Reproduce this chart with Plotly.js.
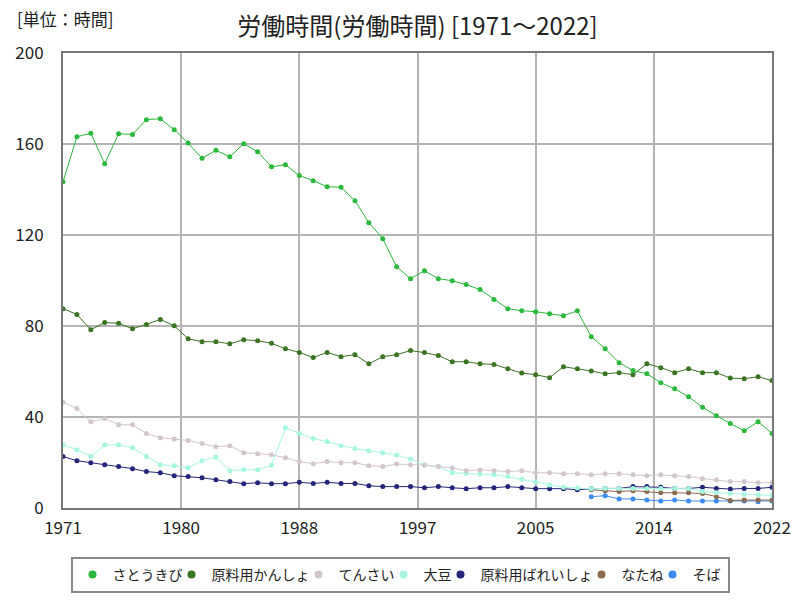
<!DOCTYPE html>
<html><head><meta charset="utf-8">
<script src="https://cdn.plot.ly/plotly-3.0.1.min.js"></script>
<style>body{margin:0;background:#fff}#chart{width:800px;height:600px}</style>
</head><body><div id="chart"></div>
<script>
const years = [];
for (let y = 1971; y <= 2022; y++) years.push(y);

const seriesNames = ["さとうきび","原料用かんしょ","てんさい","大豆","原料用ばれいしょ","なたね","そば"];
const seriesColors = ["#2cb83c","#3b7423","#d2c6cf","#a6f7de","#25257a","#8c6a4e","#3d8cf2"];

const sugarcane = [143.4,163.2,164.7,151.3,164.5,164.2,170.7,171.1,166.3,160.4,
  153.7,157.2,154.4,160.1,156.6,150.0,150.9,146.1,143.9,141.2,
  141.0,135.1,125.4,118.4,106.0,100.8,104.3,100.8,99.9,98.2,
  96.0,91.6,87.6,86.7,86.3,85.4,84.5,86.7,75.3,70.0,
  63.9,60.4,59.0,55.1,52.4,48.9,44.3,40.6,37.1,34.0,
  37.9,32.8];
const sweetPotato = [87.6,85.1,78.4,81.5,81.2,78.8,80.7,82.9,80.1,74.4,
  73.1,73.1,72.2,74.0,73.5,72.4,70.0,68.4,66.1,68.4,
  66.5,67.4,63.4,66.5,67.4,69.2,68.3,67.0,64.3,64.3,
  63.4,63.1,61.2,59.3,58.6,57.3,62.1,61.2,60.2,59.0,
  59.5,58.6,63.4,61.7,59.5,61.2,59.5,59.5,57.1,56.8,
  57.7,56.0];
const sugarBeet = [46.5,43.7,37.9,39.3,36.6,36.6,32.7,30.9,30.3,29.7,
  28.3,26.9,27.4,24.3,23.9,23.4,22.1,20.4,19.5,20.4,
  19.9,19.9,18.6,18.2,19.3,19.0,18.9,18.2,17.6,16.4,
  16.7,16.4,16.0,16.4,15.5,15.5,15.1,15.1,14.6,15.1,
  15.1,14.6,14.2,14.6,14.2,13.8,12.9,12.4,11.6,11.6,
  11.1,11.1];
const soybean = [27.7,25.6,22.6,27.7,27.8,26.5,22.6,19.0,18.6,17.7,
  20.8,22.3,16.4,16.8,16.8,18.8,35.3,32.8,30.5,29.2,
  27.4,26.1,25.2,24.3,23.3,21.5,18.9,18.2,15.5,15.2,
  14.9,14.6,13.8,12.6,11.4,10.1,9.1,8.8,8.5,8.6,
  8.6,8.6,8.6,8.6,8.6,8.6,7.2,6.7,6.4,6.0,
  5.8,5.5];
const potato = [22.6,20.8,19.9,19.0,18.2,17.3,16.0,15.5,14.2,13.8,
  13.3,12.4,11.6,10.7,11.1,10.7,10.7,11.3,10.8,11.3,
  10.8,10.8,9.8,9.4,9.4,9.4,8.9,9.4,8.9,8.5,
  8.9,8.9,9.4,8.9,8.5,8.5,8.5,8.0,8.5,8.6,
  8.6,9.4,9.4,9.1,8.6,8.6,9.1,8.6,8.3,8.6,
  8.6,9.1];
const rapeYears = [2009,2010,2011,2012,2013,2014,2015,2016,2017,2018,2019,2020,2021,2022];
const rapeseed = [8.0,7.6,7.2,7.6,7.2,6.7,6.7,6.7,6.4,5.0,3.3,3.5,3.5,3.5];
const buckwheat = [5.0,5.4,4.0,4.0,3.5,3.1,3.5,3.1,3.1,3.1,3.1,3.1,2.8,3.1];

const xTickVals = [1971,1979.5,1988,1996.5,2005,2013.5,2022];
const xTickText = ["1971","1980","1988","1997","2005","2014","2022"];

const seriesX = [years,years,years,years,years,rapeYears,rapeYears];
const seriesY = [sugarcane,sweetPotato,sugarBeet,soybean,potato,rapeseed,buckwheat];

const legendFontSize = 14;
const traces = [];
for (let i = seriesNames.length - 1; i >= 0; i--) {
  traces.push({
    x: seriesX[i], y: seriesY[i], type: 'scatter', mode: 'lines+markers',
    name: seriesNames[i], showlegend: false,
    line: {color: seriesColors[i], width: 1},
    marker: {color: seriesColors[i], size: 5}
  });
}
for (let i = 0; i < seriesNames.length; i++) {
  const last = i === seriesNames.length - 1;
  traces.push({
    x: [null], y: [null], type: 'scatter', mode: 'markers',
    name: seriesNames[i], showlegend: true,
    legendwidth: seriesNames[i].length * legendFontSize + (last ? 2 : -16),
    marker: {color: seriesColors[i], size: 8}
  });
}

const font = "'Noto Sans CJK JP', 'Noto Sans', sans-serif";
const layout = {
  width: 800, height: 600,
  margin: {l: 63, r: 28, t: 53, b: 92, autoexpand: false},
  paper_bgcolor: '#fff', plot_bgcolor: '#fff',
  font: {family: font, color: '#222', size: 16},
  title: {text: '労働時間(労働時間) [1971～2022]', xref: 'paper', x: 0.5, xanchor: 'center', y: 0.955, yanchor: 'middle',
          font: {family: font, size: 24, color: '#222'}},
  xaxis: {
    range: [1971, 2022], tickmode: 'array', tickvals: xTickVals, ticktext: xTickText,
    showgrid: true, gridcolor: '#b4b4b4', gridwidth: 2,
    showline: true, linecolor: '#777', linewidth: 2, mirror: true,
    ticks: '', ticklabelstandoff: 4, zeroline: false, tickfont: {size: 17, family: font, color: '#222'}
  },
  yaxis: {
    range: [0, 200], tickmode: 'array', tickvals: [0,40,80,120,160,200],
    showgrid: true, gridcolor: '#b4b4b4', gridwidth: 2,
    showline: true, linecolor: '#777', linewidth: 2, mirror: true,
    ticks: '', ticklabelstandoff: 14, zeroline: false, tickfont: {size: 17, family: font, color: '#222'}
  },
  legend: {
    orientation: 'h', xref: 'container', yref: 'container',
    x: 0.5, xanchor: 'center', y: 0.072, yanchor: 'top',
    bordercolor: '#888', borderwidth: 2, bgcolor: '#fff',
    font: {size: legendFontSize, family: font, color: '#222'},
    itemwidth: 30, tracegroupgap: 0
  },
  annotations: [{
    text: '[単位：時間]', xref: 'paper', yref: 'paper', x: -0.068, y: 1.075,
    xanchor: 'left', yanchor: 'middle', showarrow: false,
    font: {size: 17, family: font, color: '#222'}
  }]
};
Plotly.newPlot('chart', traces, layout, {displayModeBar: false, staticPlot: true});
</script></body></html>
